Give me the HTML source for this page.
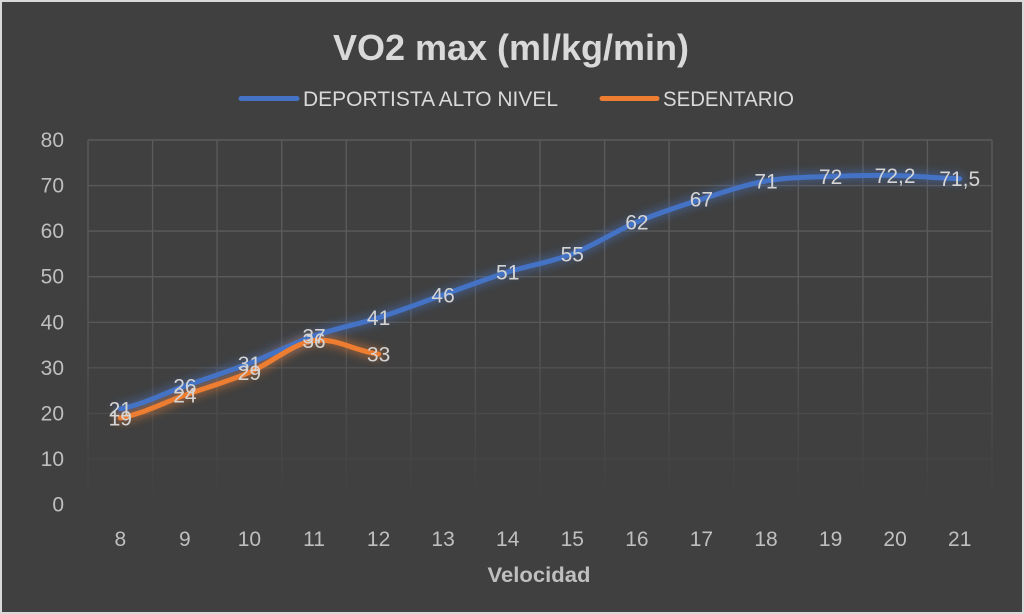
<!DOCTYPE html>
<html>
<head>
<meta charset="utf-8">
<style>
  html,body{margin:0;padding:0;background:#404040;}
  body{width:1024px;height:614px;overflow:hidden;}
  svg{display:block;}
  text{font-family:"Liberation Sans",Arial,sans-serif;}
</style>
</head>
<body>
<svg width="1024" height="614" viewBox="0 0 1024 614" xmlns="http://www.w3.org/2000/svg">
  <defs>
    <linearGradient id="fade" gradientUnits="userSpaceOnUse" x1="0" y1="300" x2="0" y2="505">
      <stop offset="0" stop-color="#fff" stop-opacity="1"/>
      <stop offset="1" stop-color="#fff" stop-opacity="0"/>
    </linearGradient>
    <mask id="gridmask" maskUnits="userSpaceOnUse" x="0" y="0" width="1024" height="614">
      <rect x="0" y="0" width="1024" height="614" fill="url(#fade)"/>
    </mask>
    <filter id="glow" x="-10%" y="-30%" width="120%" height="160%">
      <feGaussianBlur stdDeviation="4"/>
    </filter>
  </defs>

  <rect x="0" y="0" width="1024" height="614" fill="#404040"/>
  <rect x="1" y="1" width="1022" height="612" fill="none" stroke="#d9d9d9" stroke-width="2"/>

  <!-- Title -->
  <text x="511" y="60" text-anchor="middle" font-size="36" font-weight="bold" fill="#d9d9d9">VO2 max (ml/kg/min)</text>

  <!-- Legend -->
  <line x1="241" y1="98.5" x2="297" y2="98.5" stroke="#4472C4" stroke-width="5" stroke-linecap="round"/>
  <text x="303" y="106" font-size="21" fill="#d9d9d9" textLength="255" lengthAdjust="spacingAndGlyphs">DEPORTISTA ALTO NIVEL</text>
  <line x1="602" y1="98.5" x2="657" y2="98.5" stroke="#ED7D31" stroke-width="5" stroke-linecap="round"/>
  <text x="663" y="106" font-size="21" fill="#d9d9d9" textLength="131" lengthAdjust="spacingAndGlyphs">SEDENTARIO</text>

  <!-- Grid -->
  <g stroke="#5a5a5a" stroke-width="1.4" mask="url(#gridmask)" fill="none">
    <line x1="88" y1="140" x2="992" y2="140"/>
    <line x1="88" y1="185.6" x2="992" y2="185.6"/>
    <line x1="88" y1="231.1" x2="992" y2="231.1"/>
    <line x1="88" y1="276.7" x2="992" y2="276.7"/>
    <line x1="88" y1="322.3" x2="992" y2="322.3"/>
    <line x1="88" y1="367.8" x2="992" y2="367.8"/>
    <line x1="88" y1="413.4" x2="992" y2="413.4"/>
    <line x1="88" y1="458.9" x2="992" y2="458.9"/>
    <line x1="88" y1="504.5" x2="992" y2="504.5"/>
    <line x1="88" y1="140" x2="88" y2="504.5"/>
    <line x1="152.6" y1="140" x2="152.6" y2="504.5"/>
    <line x1="217.1" y1="140" x2="217.1" y2="504.5"/>
    <line x1="281.7" y1="140" x2="281.7" y2="504.5"/>
    <line x1="346.3" y1="140" x2="346.3" y2="504.5"/>
    <line x1="410.9" y1="140" x2="410.9" y2="504.5"/>
    <line x1="475.4" y1="140" x2="475.4" y2="504.5"/>
    <line x1="540" y1="140" x2="540" y2="504.5"/>
    <line x1="604.6" y1="140" x2="604.6" y2="504.5"/>
    <line x1="669.1" y1="140" x2="669.1" y2="504.5"/>
    <line x1="733.7" y1="140" x2="733.7" y2="504.5"/>
    <line x1="798.3" y1="140" x2="798.3" y2="504.5"/>
    <line x1="862.9" y1="140" x2="862.9" y2="504.5"/>
    <line x1="927.4" y1="140" x2="927.4" y2="504.5"/>
    <line x1="992" y1="140" x2="992" y2="504.5"/>
  </g>

  <!-- Y axis labels -->
  <g font-size="21" fill="#bfbfbf" text-anchor="end">
    <text x="64" y="147">80</text>
    <text x="64" y="192.6">70</text>
    <text x="64" y="238.1">60</text>
    <text x="64" y="283.7">50</text>
    <text x="64" y="329.3">40</text>
    <text x="64" y="374.8">30</text>
    <text x="64" y="420.4">20</text>
    <text x="64" y="465.9">10</text>
    <text x="64" y="511.5">0</text>
  </g>

  <!-- X axis labels -->
  <g font-size="21" fill="#bfbfbf" text-anchor="middle">
    <text x="120.3" y="546">8</text>
    <text x="184.9" y="546">9</text>
    <text x="249.4" y="546">10</text>
    <text x="314.0" y="546">11</text>
    <text x="378.6" y="546">12</text>
    <text x="443.1" y="546">13</text>
    <text x="507.7" y="546">14</text>
    <text x="572.3" y="546">15</text>
    <text x="636.9" y="546">16</text>
    <text x="701.4" y="546">17</text>
    <text x="766.0" y="546">18</text>
    <text x="830.6" y="546">19</text>
    <text x="895.1" y="546">20</text>
    <text x="959.7" y="546">21</text>
  </g>
  <text x="539" y="582" text-anchor="middle" font-size="21" font-weight="bold" fill="#bfbfbf" textLength="103" lengthAdjust="spacingAndGlyphs">Velocidad</text>

  <!-- Series paths -->
  <path id="blue" d="M120.3,408.8 C141.8,405.0 163.4,393.6 184.9,386.0 C206.4,378.4 227.9,371.7 249.4,363.3 C270.9,355.0 292.5,343.5 314.0,335.9 C335.5,328.3 357.1,324.5 378.6,317.7 C400.1,310.9 421.6,302.5 443.1,294.9 C464.6,287.3 486.2,278.9 507.7,272.1 C529.2,265.3 550.8,262.3 572.3,253.9 C593.8,245.6 615.4,231.1 636.9,222.0 C658.4,212.9 679.9,206.0 701.4,199.2 C722.9,192.4 744.5,184.8 766.0,181.0 C787.5,177.2 809.1,177.3 830.6,176.4 C852.1,175.5 873.6,175.1 895.1,175.5 C916.6,175.9 938.2,178.2 959.7,178.7" fill="none" stroke="none"/>

  <!-- glows -->
  <path d="M120.3,408.8 C141.8,405.0 163.4,393.6 184.9,386.0 C206.4,378.4 227.9,371.7 249.4,363.3 C270.9,355.0 292.5,343.5 314.0,335.9 C335.5,328.3 357.1,324.5 378.6,317.7 C400.1,310.9 421.6,302.5 443.1,294.9 C464.6,287.3 486.2,278.9 507.7,272.1 C529.2,265.3 550.8,262.3 572.3,253.9 C593.8,245.6 615.4,231.1 636.9,222.0 C658.4,212.9 679.9,206.0 701.4,199.2 C722.9,192.4 744.5,184.8 766.0,181.0 C787.5,177.2 809.1,177.3 830.6,176.4 C852.1,175.5 873.6,175.1 895.1,175.5 C916.6,175.9 938.2,178.2 959.7,178.7" fill="none" stroke="#4472C4" stroke-width="12" stroke-opacity="0.4" stroke-linecap="round" stroke-linejoin="round" filter="url(#glow)"/>
  <path d="M120.3,417.9 C141.8,414.1 163.4,402.8 184.9,395.2 C206.4,387.6 227.9,381.5 249.4,372.4 C270.9,363.3 292.5,343.6 314.0,340.5 C335.5,337.5 357.1,351.8 378.6,354.1" fill="none" stroke="#ED7D31" stroke-width="12" stroke-opacity="0.4" stroke-linecap="round" stroke-linejoin="round" filter="url(#glow)"/>

  <!-- lines -->
  <path d="M120.3,408.8 C141.8,405.0 163.4,393.6 184.9,386.0 C206.4,378.4 227.9,371.7 249.4,363.3 C270.9,355.0 292.5,343.5 314.0,335.9 C335.5,328.3 357.1,324.5 378.6,317.7 C400.1,310.9 421.6,302.5 443.1,294.9 C464.6,287.3 486.2,278.9 507.7,272.1 C529.2,265.3 550.8,262.3 572.3,253.9 C593.8,245.6 615.4,231.1 636.9,222.0 C658.4,212.9 679.9,206.0 701.4,199.2 C722.9,192.4 744.5,184.8 766.0,181.0 C787.5,177.2 809.1,177.3 830.6,176.4 C852.1,175.5 873.6,175.1 895.1,175.5 C916.6,175.9 938.2,178.2 959.7,178.7" fill="none" stroke="#4472C4" stroke-width="5" stroke-linecap="round" stroke-linejoin="round"/>
  <path d="M120.3,417.9 C141.8,414.1 163.4,402.8 184.9,395.2 C206.4,387.6 227.9,381.5 249.4,372.4 C270.9,363.3 292.5,343.6 314.0,340.5 C335.5,337.5 357.1,351.8 378.6,354.1" fill="none" stroke="#ED7D31" stroke-width="5" stroke-linecap="round" stroke-linejoin="round"/>

  <!-- Data labels -->
  <g font-size="21" fill="#d4d4d4" text-anchor="middle">
    <text x="120.3" y="416.3">21</text>
    <text x="184.9" y="393.5">26</text>
    <text x="249.4" y="370.8">31</text>
    <text x="314.0" y="343.4">37</text>
    <text x="378.6" y="325.2">41</text>
    <text x="443.1" y="302.4">46</text>
    <text x="507.7" y="279.6">51</text>
    <text x="572.3" y="261.4">55</text>
    <text x="636.9" y="229.5">62</text>
    <text x="701.4" y="206.7">67</text>
    <text x="766.0" y="188.5">71</text>
    <text x="830.6" y="183.9">72</text>
    <text x="895.1" y="183.0">72,2</text>
    <text x="959.7" y="186.2">71,5</text>

    <text x="120.3" y="425.4">19</text>
    <text x="184.9" y="402.7">24</text>
    <text x="249.4" y="379.9">29</text>
    <text x="314.0" y="348.0">36</text>
    <text x="378.6" y="361.6">33</text>
  </g>
</svg>
</body>
</html>
